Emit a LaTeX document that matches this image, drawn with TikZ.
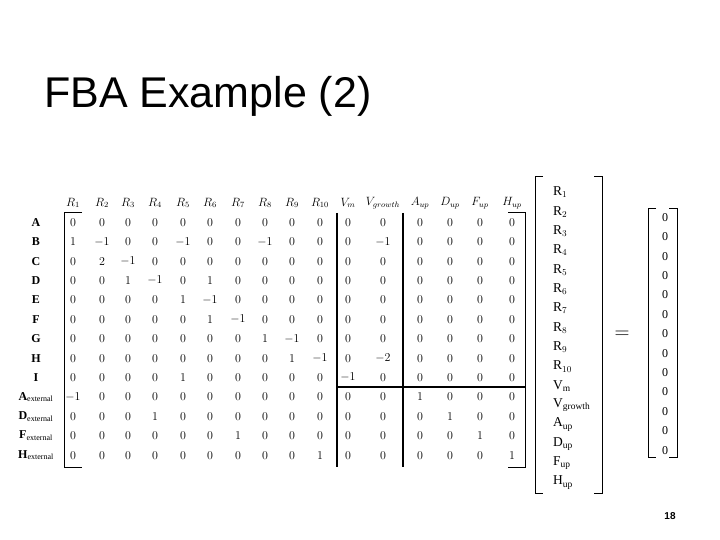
\documentclass[tikz,border=0pt]{standalone}
\usepackage{fontspec}
\setmainfont{Liberation Serif}
\newfontfamily\sans{Liberation Sans}
\begin{document}
\begin{tikzpicture}[x=1pt,y=-1pt,
  ent/.style={inner sep=0pt,font=\fontsize{12}{12}\selectfont},
  vent/.style={inner sep=0pt,font=\fontsize{13.5}{13.5}\selectfont},
  hdr/.style={inner sep=0pt,font=\fontsize{12}{12}\selectfont\itshape},
  lbl/.style={inner sep=0pt,font=\fontsize{12}{12}\selectfont\bfseries},
  rule/.style={line width=1.6pt},
  brk/.style={line width=1pt}]
\useasboundingbox (0,0) rectangle (720,540);
\node[anchor=west,inner sep=0pt,font=\sans\fontsize{43}{43}\selectfont] (title) at (44,96) {FBA Example (2)};
\node[inner sep=0pt,font=\sans\bfseries\fontsize{10}{10}\selectfont] (pg) at (670,516) {18};
% headers
\foreach \h [count=\i] in {R_{1},R_{2},R_{3},R_{4},R_{5},R_{6},R_{7},R_{8},R_{9},R_{10},V_{m},V_{growth},A_{up},D_{up},F_{up},H_{up}}{
  \pgfmathsetmacro\xx{{73,102,128,155,183,210,238,265,292,320,348,383,420,450,480,512}[\i-1]}
  \node[hdr] (h\i) at (\xx,203) {$\h$};
}
% row labels
\foreach \l [count=\j] in {A,B,C,D,E,F,G,H,I,A$_{\mathrm{external}}$,D$_{\mathrm{external}}$,F$_{\mathrm{external}}$,H$_{\mathrm{external}}$}{
  \node[lbl] (l\j) at (36,203+19.4*\j) {\l};
}
% entries
\foreach \row [count=\j] in {
 {0,0,0,0,0,0,0,0,0,0,0,0,0,0,0,0},
 {1,-1,0,0,-1,0,0,-1,0,0,0,-1,0,0,0,0},
 {0,2,-1,0,0,0,0,0,0,0,0,0,0,0,0,0},
 {0,0,1,-1,0,1,0,0,0,0,0,0,0,0,0,0},
 {0,0,0,0,1,-1,0,0,0,0,0,0,0,0,0,0},
 {0,0,0,0,0,1,-1,0,0,0,0,0,0,0,0,0},
 {0,0,0,0,0,0,0,1,-1,0,0,0,0,0,0,0},
 {0,0,0,0,0,0,0,0,1,-1,0,-2,0,0,0,0},
 {0,0,0,0,1,0,0,0,0,0,-1,0,0,0,0,0},
 {-1,0,0,0,0,0,0,0,0,0,0,0,1,0,0,0},
 {0,0,0,1,0,0,0,0,0,0,0,0,0,1,0,0},
 {0,0,0,0,0,0,1,0,0,0,0,0,0,0,1,0},
 {0,0,0,0,0,0,0,0,0,1,0,0,0,0,0,1}}{
  \foreach \v [count=\i] in \row {
    \pgfmathsetmacro\xx{{73,102,128,155,183,210,238,265,292,320,348,383,420,450,480,512}[\i-1]}
    \node[ent] (e\j-\i) at (\xx,203+19.4*\j) {$\v$};
  }
}
% matrix brackets and rules
\draw[brk] (82,213) -- (64,213) -- (64,467) -- (82,467);
\draw[brk] (508,213) -- (525,213) -- (525,467) -- (508,467);
\draw[rule] (337,213) -- (337,467);
\draw[rule] (403,213) -- (403,467);
\draw[rule] (337,387) -- (525,387);
% flux vector
\foreach \r [count=\k] in {R$_1$,R$_2$,R$_3$,R$_4$,R$_5$,R$_6$,R$_7$,R$_8$,R$_9$,R$_{10}$,V$_{\mathrm{m}}$,V$_{\mathrm{growth}}$,A$_{\mathrm{up}}$,D$_{\mathrm{up}}$,F$_{\mathrm{up}}$,H$_{\mathrm{up}}$}{
  \node[vent,anchor=west] (v\k) at (553,173+19.35*\k) {\r};
}
\draw[brk] (543,177) -- (535,177) -- (535,493) -- (543,493);
\draw[brk] (594,177) -- (602,177) -- (602,493) -- (594,493);
\node[inner sep=0pt,font=\fontsize{20}{20}\selectfont] (eq) at (622,335) {$=$};
% zero vector
\foreach \k in {1,...,13}{
  \node[ent] (z\k) at (665,198+19.4*\k) {0};
}
\draw[brk] (656,209) -- (648,209) -- (648,457) -- (656,457);
\draw[brk] (669,209) -- (677,209) -- (677,457) -- (669,457);
\end{tikzpicture}
\end{document}
